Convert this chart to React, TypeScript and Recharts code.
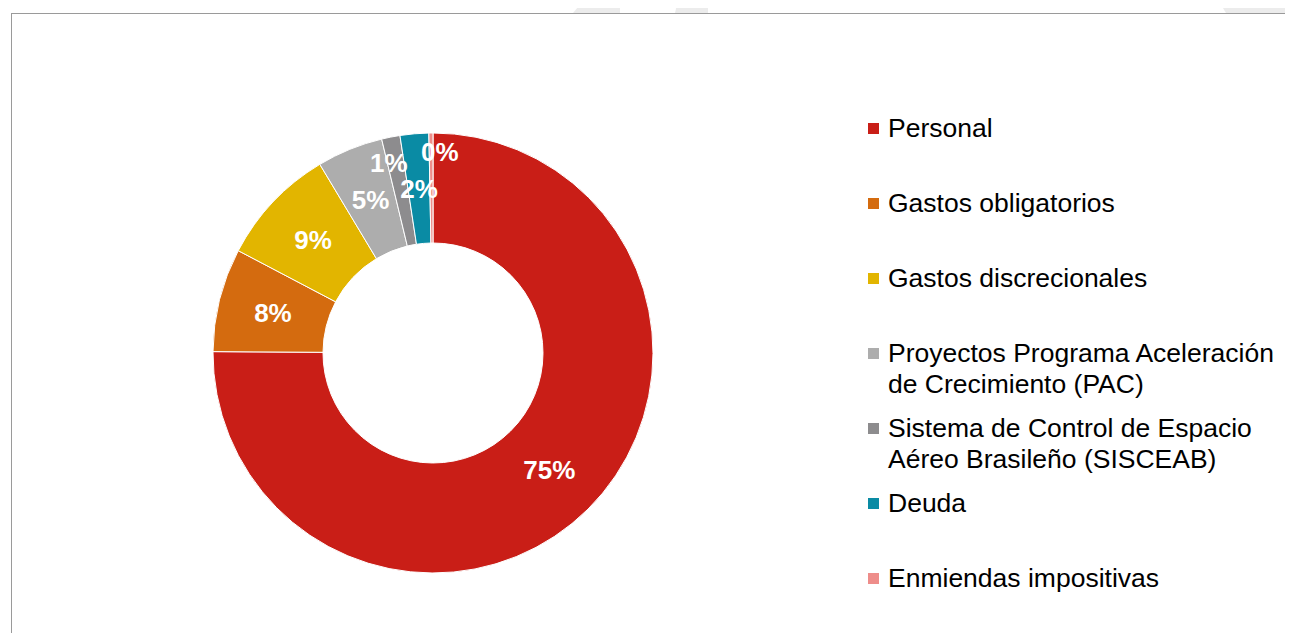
import React from 'react';
import { PieChart, Pie, Cell, Legend } from 'recharts';

const categories = [
  'Personal',
  'Gastos obligatorios',
  'Gastos discrecionales',
  'Proyectos Programa Aceleración de Crecimiento (PAC)',
  'Sistema de Control de Espacio Aéreo Brasileño (SISCEAB)',
  'Deuda',
  'Enmiendas impositivas',
];
const shares = [75.1, 7.6, 8.7, 4.85, 1.35, 2.1, 0.3];
const colors = ['#C91E17', '#D46B0F', '#E2B500', '#ADADAD', '#8D8C8E', '#0A8BA4', '#EE8D8A'];

// small labels were moved outward by hand in the original
const labelNudge = [
  { dr: 0, da: 0 },
  { dr: 0, da: 0 },
  { dr: 0, da: 0 },
  { dr: 0, da: 0 },
  { dr: 30, da: 2 },
  { dr: 0, da: 0 },
  { dr: 36, da: -2.5 },
];

const data = categories.map((name, i) => ({ name, value: shares[i] }));

const RAD = Math.PI / 180;
const FONT = '"Liberation Sans", Arial, sans-serif';

const renderLabel = (props: any) => {
  const { cx, cy, midAngle, innerRadius, outerRadius, percent, index } = props;
  const n = labelNudge[index] || { dr: 0, da: 0 };
  const r = (innerRadius + outerRadius) / 2 + n.dr;
  const a = (midAngle + n.da) * RAD;
  const x = cx + r * Math.cos(-a);
  const y = cy + r * Math.sin(-a);
  return (
    <text
      x={x}
      y={y}
      fill="#fff"
      textAnchor="middle"
      dominantBaseline="central"
      style={{ fontFamily: FONT, fontSize: 26, fontWeight: 700 }}
    >
      {`${Math.round(percent * 100)}%`}
    </text>
  );
};

const renderLegend = (props: any) => {
  const payload = [...(props.payload || [])].sort(
    (a: any, b: any) => categories.indexOf(a.value) - categories.indexOf(b.value)
  );
  return (
    <div style={{ position: 'relative', width: 430, height: 520, fontFamily: FONT }}>
      {payload.map((entry: any, i: number) => (
        <div
          key={entry.value}
          style={{ position: 'absolute', left: 0, top: i * 75, width: 430, display: 'flex' }}
        >
          <div
            style={{
              width: 11,
              height: 11,
              marginTop: 10,
              marginLeft: 8,
              marginRight: 9,
              background: entry.color,
              flex: 'none',
            }}
          />
          <div style={{ fontSize: 26.5, lineHeight: '31px', color: '#000', width: 410 }}>
            {entry.value}
          </div>
        </div>
      ))}
    </div>
  );
};

export default function App() {
  return (
    <div style={{ position: 'relative', width: 1285, height: 625, overflow: 'hidden', background: '#fff' }}>
      <svg width={1285} height={625} style={{ position: 'absolute', left: 0, top: 0 }}>
        <polygon points="576,-8 612,-8 612,5 565,5" fill="#ececec" />
        <polygon points="670,-8 700,-8 700,5 667,5" fill="#ececec" />
        <polygon points="1210,-8 1285,-8 1285,5 1218,5" fill="#ececec" />
      </svg>
      <div
        style={{
          position: 'absolute',
          left: 3,
          top: 5,
          width: 1400,
          height: 800,
          borderLeft: '1.5px solid #9a9a9a',
          borderTop: '1.5px solid #9a9a9a',
        }}
      />
      <div style={{ position: 'absolute', left: 0, top: 0 }}>
        <PieChart width={1285} height={625} margin={{ top: 0, right: 0, bottom: 0, left: 0 }}>
          <Pie
            data={data}
            dataKey="value"
            nameKey="name"
            cx={425}
            cy={345}
            innerRadius={110}
            outerRadius={220}
            startAngle={90}
            endAngle={-270}
            stroke="#fff"
            strokeWidth={1}
            label={renderLabel}
            labelLine={false}
            isAnimationActive={false}
          >
            {data.map((d, i) => (
              <Cell key={d.name} fill={colors[i]} />
            ))}
          </Pie>
          <Legend
            content={renderLegend}
            wrapperStyle={{ position: 'absolute', left: 852, top: 105, width: 430 }}
          />
        </PieChart>
      </div>
    </div>
  );
}
